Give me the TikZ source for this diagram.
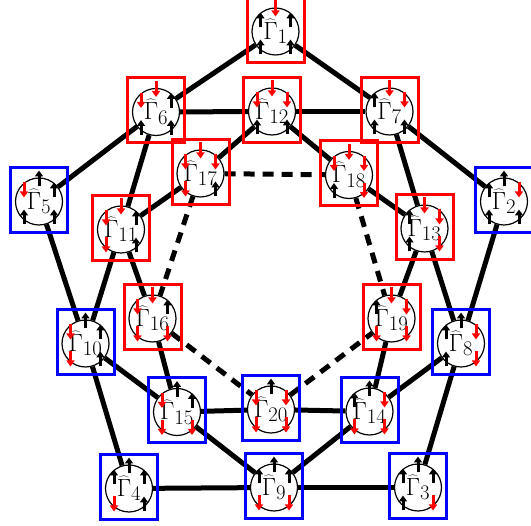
\documentclass[tikz,border=0pt]{standalone}
\usetikzlibrary{arrows.meta,backgrounds}
\tikzset{
 gnode/.style={circle,draw,fill=white,line width=1.2pt,minimum size=47pt,inner sep=0pt,font=\Huge},
 edge/.style={line width=5pt,black},
 dedge/.style={edge,dash pattern=on 11pt off 8pt},
 uparr/.style={line width=3pt,black,-{Triangle[width=8pt,length=6pt]}},
 dnarr/.style={line width=3pt,red,-{Triangle[width=8pt,length=6pt]}},
 rbox/.style={draw=red,line width=3pt},
 bbox/.style={draw=blue,line width=3pt},
}
\newcommand\putarr[5]{%
  \ifx#2B\draw[uparr] ([shift={(#3,#5)}]#1.center) -- ([shift={(#3,#4)}]#1.center);%
  \else\draw[dnarr] ([shift={(#3,#4)}]#1.center) -- ([shift={(#3,#5)}]#1.center);\fi}
\newcommand\decor[7]{%
  \putarr{#1}{#3}{0}{-31}{-15}%
  \putarr{#1}{#4}{-15}{-19}{-4}%
  \putarr{#1}{#5}{15}{-19}{-4}%
  \putarr{#1}{#6}{-15}{8}{23}%
  \putarr{#1}{#7}{15}{8}{23}%
  \draw[#2] ([shift={(-28.5,-34)}]#1.center) rectangle ([shift={(28.5,31)}]#1.center);}
\begin{document}
\begin{tikzpicture}[x=1pt,y=-1pt]
\useasboundingbox (0,0) rectangle (531,526);
\node[gnode] (g1) at (275.5,31.5) {$\widehat{\Gamma}_{1}$};
\node[gnode] (g2) at (504,201.5) {$\widehat{\Gamma}_{2}$};
\node[gnode] (g3) at (418,487.5) {$\widehat{\Gamma}_{3}$};
\node[gnode] (g4) at (129,488.5) {$\widehat{\Gamma}_{4}$};
\node[gnode] (g5) at (39,201.5) {$\widehat{\Gamma}_{5}$};
\node[gnode] (g6) at (156,112) {$\widehat{\Gamma}_{6}$};
\node[gnode] (g7) at (389.5,111.5) {$\widehat{\Gamma}_{7}$};
\node[gnode] (g8) at (461,343.5) {$\widehat{\Gamma}_{8}$};
\node[gnode] (g9) at (274,487.5) {$\widehat{\Gamma}_{9}$};
\node[gnode] (g10) at (85.5,343.5) {$\widehat{\Gamma}_{10}$};
\node[gnode] (g11) at (121,229.5) {$\widehat{\Gamma}_{11}$};
\node[gnode] (g12) at (272,111.5) {$\widehat{\Gamma}_{12}$};
\node[gnode] (g13) at (424.5,228.5) {$\widehat{\Gamma}_{13}$};
\node[gnode] (g14) at (369.5,411.5) {$\widehat{\Gamma}_{14}$};
\node[gnode] (g15) at (177,412) {$\widehat{\Gamma}_{15}$};
\node[gnode] (g16) at (152.5,318.5) {$\widehat{\Gamma}_{16}$};
\node[gnode] (g17) at (200.5,173.5) {$\widehat{\Gamma}_{17}$};
\node[gnode] (g18) at (349,175) {$\widehat{\Gamma}_{18}$};
\node[gnode] (g19) at (391.5,318.5) {$\widehat{\Gamma}_{19}$};
\node[gnode] (g20) at (271,409.5) {$\widehat{\Gamma}_{20}$};
\begin{scope}[on background layer]
\foreach \a/\b in {g1/g6,g1/g7,g6/g5,g7/g2,g6/g12,g12/g7,g6/g11,g11/g10,g7/g13,g13/g8,
  g2/g8,g8/g3,g5/g10,g10/g4,g4/g9,g9/g3,g12/g17,g12/g18,g17/g11,g18/g13,g11/g16,g13/g19,
  g16/g15,g19/g14,g10/g15,g8/g14,g15/g20,g20/g14,g15/g9,g14/g9}
  \draw[edge] (\a) -- (\b);
\foreach \a/\b in {g17/g18,g17/g16,g18/g19,g16/g20,g20/g19}
  \draw[dedge] (\a) -- (\b);
\end{scope}
\decor{g1}{rbox}RBBBB
\decor{g2}{bbox}BBRBB
\decor{g3}{bbox}BBBBR
\decor{g4}{bbox}BBBRB
\decor{g5}{bbox}BRBBB
\decor{g6}{rbox}RRBBB
\decor{g7}{rbox}RBRBB
\decor{g8}{bbox}BBRBR
\decor{g9}{bbox}BBBRR
\decor{g10}{bbox}BRBRB
\decor{g11}{rbox}RRBRB
\decor{g12}{rbox}RRRBB
\decor{g13}{rbox}RBRBR
\decor{g14}{bbox}BBRRR
\decor{g15}{bbox}BRBRR
\decor{g16}{rbox}RRBRR
\decor{g17}{rbox}RRRRB
\decor{g18}{rbox}RRRBR
\decor{g19}{rbox}RBRRR
\decor{g20}{bbox}BRRRR
\end{tikzpicture}
\end{document}
